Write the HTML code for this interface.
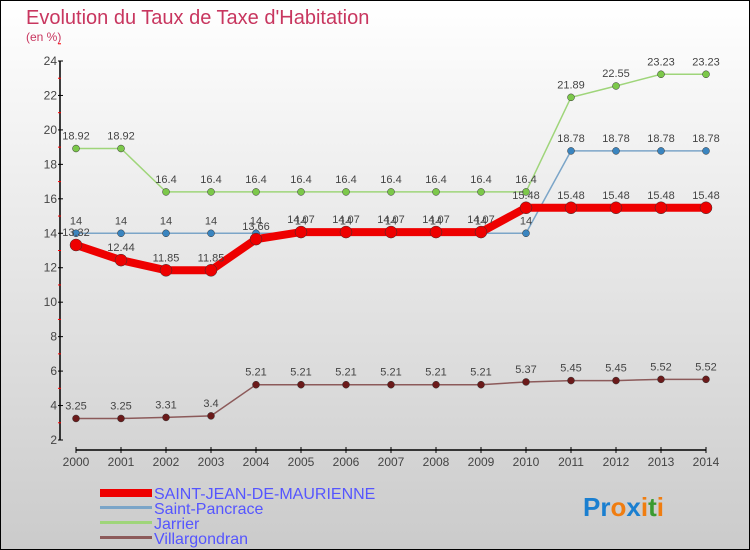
<!DOCTYPE html>
<html><head><meta charset="utf-8"><style>
body{margin:0;}
#c{width:750px;height:550px;position:relative;overflow:hidden;box-sizing:border-box;border:1px solid #000;background:linear-gradient(#fff,#cbcbcb);font-family:"Liberation Sans",sans-serif;}
</style></head><body>
<div id="c">
<svg id="s" width="750" height="550" style="position:absolute;left:-1px;top:-1px">
<text x="26" y="24" font-size="20" fill="#c8365f">Evolution du Taux de Taxe d'Habitation</text>
<text x="26" y="41" font-size="12" fill="#c8365f">(en %)</text>
<g id="g"></g>
<g font-size="16" fill="#5555ff">
<rect x="100" y="489" width="52" height="8" fill="#e00"/>
<text x="154" y="499">SAINT-JEAN-DE-MAURIENNE</text>
<rect x="100" y="506" width="52" height="3" fill="#7ba5c8"/>
<text x="154" y="514">Saint-Pancrace</text>
<rect x="100" y="521" width="52" height="3" fill="#9fd57a"/>
<text x="154" y="529">Jarrier</text>
<rect x="100" y="536" width="52" height="3" fill="#8c5a5a"/>
<text x="154" y="544">Villargondran</text>
</g>
<text x="583" y="516" font-size="26" font-weight="bold"><tspan fill="#1a7fd0">Pr</tspan><tspan fill="#f07d10">o</tspan><tspan fill="#1a7fd0">x</tspan><tspan fill="#f07d10">i</tspan><tspan fill="#3a9a30">t</tspan><tspan fill="#f07d10">i</tspan></text>
</svg>
</div>
<script>
const years=[2000,2001,2002,2003,2004,2005,2006,2007,2008,2009,2010,2011,2012,2013,2014];
const yTicks=[2,4,6,8,10,12,14,16,18,20,22,24];
const saintJean=[13.32,12.44,11.85,11.85,13.66,14.07,14.07,14.07,14.07,14.07,15.48,15.48,15.48,15.48,15.48];
const saintPancrace=[14,14,14,14,14,14,14,14,14,14,14,18.78,18.78,18.78,18.78];
const jarrier=[18.92,18.92,16.4,16.4,16.4,16.4,16.4,16.4,16.4,16.4,16.4,21.89,22.55,23.23,23.23];
const villargondran=[3.25,3.25,3.31,3.4,5.21,5.21,5.21,5.21,5.21,5.21,5.37,5.45,5.45,5.52,5.52];
const NS="http://www.w3.org/2000/svg";
const g=document.getElementById('g');
const xs=i=>76+i*45;
const ys=v=>440-(v-2)*(379/22);
function mk(t,a,p){const e=document.createElementNS(NS,t);for(const k in a)e.setAttribute(k,a[k]);(p||g).appendChild(e);return e;}
let ax=mk('line',{x1:60,y1:61,x2:60,y2:440,stroke:'#000','stroke-width':1.5});


let bx=mk('line',{x1:76,y1:450,x2:706,y2:450,stroke:'#000','stroke-width':1.5});


yTicks.forEach(v=>{
 mk('line',{x1:58,x2:63,y1:ys(v),y2:ys(v),stroke:'#000'});
 mk('line',{x1:58,x2:61,y1:ys(v+1),y2:ys(v+1),stroke:'#f00'});
 const t=mk('text',{x:57,y:ys(v)+4,'text-anchor':'end','font-size':12,fill:'#444'});t.textContent=v;
 
 
});
years.forEach((y,i)=>{
 mk('line',{x1:xs(i),x2:xs(i),y1:447,y2:453,stroke:'#000'});
 const t=mk('text',{x:xs(i),y:466,'text-anchor':'middle','font-size':12,fill:'#444'});t.textContent=y;
 
 
});
function series(d,color,dot,lw,r,name){
 const p=mk('polyline',{points:d.map((v,i)=>xs(i)+','+ys(v)).join(' '),fill:'none',stroke:color,'stroke-width':lw});
 
 
 d.forEach((v,i)=>{
  const c=mk('circle',{cx:xs(i),cy:ys(v),r:r,fill:dot,stroke:'#333','stroke-width':0.5});
  
  
  const t=mk('text',{x:xs(i),y:ys(v)-9,'text-anchor':'middle','font-size':11,fill:'#444'});t.textContent=v;
  
  
 });
}
series(villargondran,'#8c5a5a','#6b1a1a',1.5,3.5,'villargondran');
series(jarrier,'#9fd57a','#7cc84a',1.5,3.5,'jarrier');
series(saintPancrace,'#7ba5c8','#3a85c0',1.5,3.5,'saint-pancrace');
series(saintJean,'#e00','#e00',8,6,'saint-jean');
</script>
</body></html>
